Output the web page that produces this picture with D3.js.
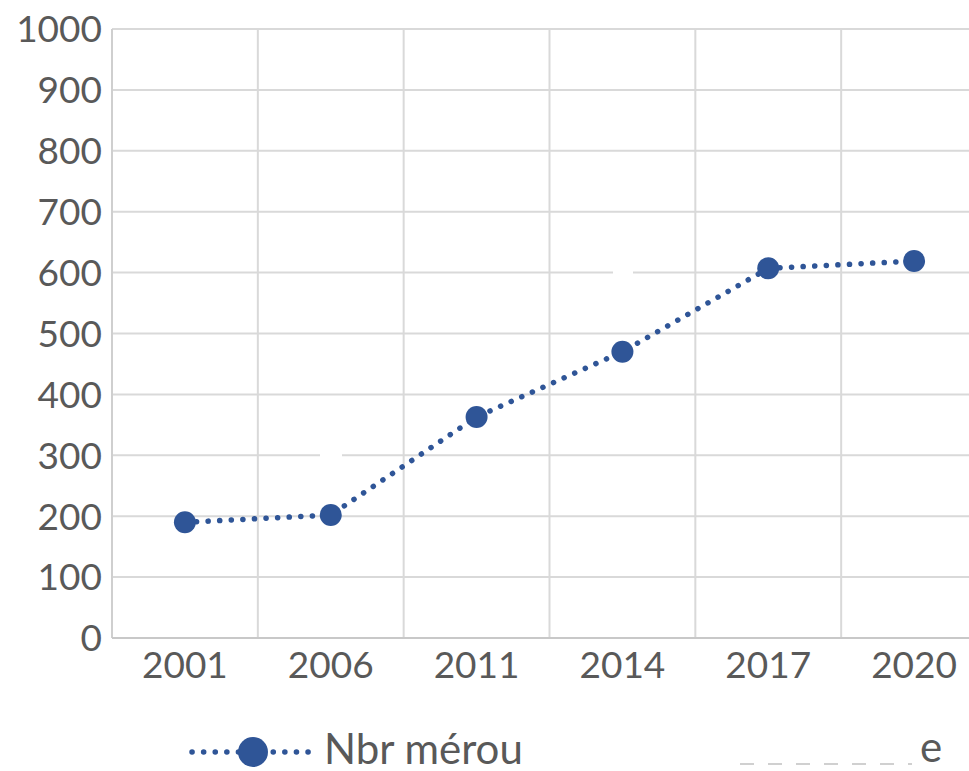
<!DOCTYPE html>
<html>
<head>
<meta charset="utf-8">
<script src="https://cdn.jsdelivr.net/npm/d3@7"></script>
<style>
  body { margin: 0; background: #fff; }
  svg { display: block; }
</style>
</head>
<body>
<svg width="969" height="771"></svg>
<script>
// data
var years = ["2001", "2006", "2011", "2014", "2017", "2020"];
var merou = [190, 202, 363, 470, 607, 619];
var yTicks = [0, 100, 200, 300, 400, 500, 600, 700, 800, 900, 1000];
var seriesName = "Nbr mérou";

var svg = d3.select("svg");
var font = "Lato, Calibri, 'Open Sans', sans-serif";
var blue = "#2f5597";
var grey = "#595959";

var plotL = 112, plotR = 987, plotT = 29, plotB = 638;

var x = d3.scaleBand().domain(years).range([plotL, plotR]);
var y = d3.scaleLinear().domain([0, 1000]).range([plotB, plotT]);

// horizontal gridlines
svg.append("g")
    .selectAll("line")
    .data(yTicks.filter(d => d > 0))
    .join("line")
    .attr("x1", plotL).attr("x2", plotR)
    .attr("y1", d => y(d)).attr("y2", d => y(d))
    .attr("stroke", "#d9d9d9").attr("stroke-width", 2);

// vertical gridlines at band edges
svg.append("g")
    .selectAll("line")
    .data(years)
    .join("line")
    .attr("x1", d => x(d) + x.step())
    .attr("x2", d => x(d) + x.step())
    .attr("y1", plotT).attr("y2", plotB)
    .attr("stroke", "#d9d9d9").attr("stroke-width", 2);

// axis lines
svg.append("line")
    .attr("x1", plotL).attr("x2", plotL).attr("y1", plotT).attr("y2", plotB)
    .attr("stroke", "#cfcfcf").attr("stroke-width", 2);
svg.append("line")
    .attr("x1", plotL).attr("x2", plotR).attr("y1", plotB).attr("y2", plotB)
    .attr("stroke", "#c8c8c8").attr("stroke-width", 2);

// little white patches over the grid (hidden labels in the original)
svg.append("rect").attr("x", 613).attr("y", y(600) - 3).attr("width", 20).attr("height", 6).attr("fill", "#fff");
svg.append("rect").attr("x", 320).attr("y", y(300) - 3).attr("width", 22).attr("height", 6).attr("fill", "#fff");

// y tick labels
svg.append("g")
    .selectAll("text")
    .data(yTicks)
    .join("text")
    .attr("x", 102)
    .attr("y", d => y(d))
    .attr("dy", "0.36em")
    .attr("text-anchor", "end")
    .attr("font-family", font)
    .attr("font-size", 37)
    .attr("fill", grey)
    .text(d => d);

// x tick labels
svg.append("g")
    .selectAll("text")
    .data(years)
    .join("text")
    .attr("x", d => x(d) + x.bandwidth() / 2)
    .attr("y", 678)
    .attr("text-anchor", "middle")
    .attr("font-family", font)
    .attr("font-size", 37)
    .attr("fill", grey)
    .text(d => d);

// series line
var line = d3.line()
    .x((d, i) => x(years[i]) + x.bandwidth() / 2)
    .y(d => y(d));

svg.append("path")
    .datum(merou)
    .attr("d", line)
    .attr("fill", "none")
    .attr("stroke", blue)
    .attr("stroke-width", 5.5)
    .attr("stroke-linecap", "round")
    .attr("stroke-dasharray", "0.1 11.5");

svg.append("g")
    .selectAll("circle")
    .data(merou)
    .join("circle")
    .attr("cx", (d, i) => x(years[i]) + x.bandwidth() / 2)
    .attr("cy", d => y(d))
    .attr("r", 11)
    .attr("fill", blue);

// legend
var lg = svg.append("g");
lg.append("line")
    .attr("x1", 192).attr("x2", 313).attr("y1", 752).attr("y2", 752)
    .attr("stroke", blue).attr("stroke-width", 5.5)
    .attr("stroke-linecap", "round")
    .attr("stroke-dasharray", "0.1 11.5");
lg.append("circle").attr("cx", 253).attr("cy", 752).attr("r", 15).attr("fill", blue);
lg.append("text")
    .attr("x", 324).attr("y", 764)
    .attr("font-family", font).attr("font-size", 42)
    .attr("fill", grey)
    .text(seriesName);

// clipped remains of a second legend entry at bottom right
svg.append("clipPath").attr("id", "cut")
    .append("rect").attr("x", 700).attr("y", 738).attr("width", 269).attr("height", 33);
var lg2 = svg.append("g").attr("clip-path", "url(#cut)");
lg2.append("line")
    .attr("x1", 740).attr("x2", 912).attr("y1", 764).attr("y2", 764)
    .attr("stroke", "#d0d0d0").attr("stroke-width", 2)
    .attr("stroke-dasharray", "14 14");
lg2.append("text")
    .attr("x", 920).attr("y", 762)
    .attr("font-family", font).attr("font-size", 42)
    .attr("fill", grey)
    .text("e");
</script>
</body>
</html>
